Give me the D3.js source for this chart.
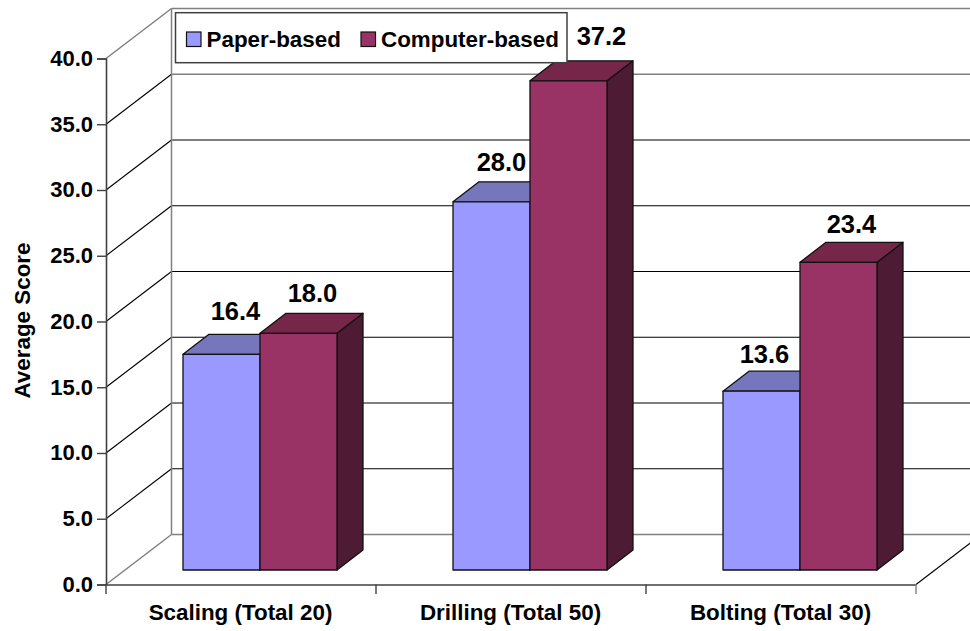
<!DOCTYPE html>
<html><head><meta charset="utf-8">
<script src="https://cdnjs.cloudflare.com/ajax/libs/d3/7.8.5/d3.min.js"></script>
<style>html,body{margin:0;padding:0;background:#fff}svg{display:block}text{font-family:"Liberation Sans",Arial,sans-serif;font-weight:bold;fill:#000}</style>
</head><body><svg id="c" width="970" height="631"></svg>
<script>
const categories=["Scaling (Total 20)","Drilling (Total 50)","Bolting (Total 30)"];
const seriesNames=["Paper-based","Computer-based"];
const paperValues=[16.4,28.0,13.6];
const computerValues=[18.0,37.2,23.4];
const yTicks=[0,5,10,15,20,25,30,35,40];
const colors={front:["#9999ff","#993366"],top:["#7676bd","#762749"],side:["#5b5b99","#4d1b33"]};
// hand placement of the data labels relative to the default spot
const labelNudge=[[1,-7],[1,-4],[-3,-3],[20,-8],[-10,-1],[0,-2]];

const svg=d3.select("#c");
const x0=d3.scaleBand().domain(categories).range([106,916]);
const xs=d3.scaleBand().domain(seriesNames).range([0,154]);
const y=d3.scaleLinear().domain([0,40]).range([584.5,58.5]);
const wall={dx:65.5,dy:-50}, barDepth={dx:26,dy:-20}, barFront={gx:77,dy:-14.5};
const gray="#808080",dark="#404040";
const ln=(a,b,c,d,col,w=1.2)=>svg.append("line").attr("x1",a).attr("y1",b).attr("x2",c).attr("y2",d).attr("stroke",col).attr("stroke-width",w);

const wx=106+wall.dx, rx=916+wall.dx;
yTicks.forEach(t=>{
  const yy=y(t), g=(t===0||t===40||t===35);
  ln(wx,yy+wall.dy,rx,yy+wall.dy,g?gray:"#000",g?1.6:1.2);
  ln(106,yy,wx,yy+wall.dy,(t===0||t===40)?gray:"#000",(t===0||t===40)?1.5:1.1);
});
ln(wx,y(40)+wall.dy,wx,y(0)+wall.dy,gray,1.5);
ln(916,y(0),rx,y(0)+wall.dy,"#000",1.1);

const series=[paperValues,computerValues];
const barY=v=>y(v)+barFront.dy, base=barY(0);
const order=[];
categories.forEach((c,i)=>seriesNames.forEach((s,j)=>order.push({c,i,s,j,v:series[j][i]})));
const bars=svg.append("g").selectAll("g").data(order).join("g");
const path=a=>d3.line()(a);
bars.each(function(d){
  const g=d3.select(this), l=x0(d.c)+barFront.gx+xs(d.s), r=l+xs.bandwidth(), t=barY(d.v);
  const D=barDepth;
  const add=(pts,f)=>g.append("path").attr("d",path(pts)+"Z").attr("fill",f).attr("stroke","#111").attr("stroke-width",1.3).attr("stroke-linejoin","round");
  add([[r,t],[r+D.dx,t+D.dy],[r+D.dx,base+D.dy],[r,base]],colors.side[d.j]);
  add([[l,t],[l+D.dx,t+D.dy],[r+D.dx,t+D.dy],[r,t]],colors.top[d.j]);
  add([[l,t],[r,t],[r,base],[l,base]],colors.front[d.j]);
});

const ya=svg.append("g").attr("transform","translate(106,0)").call(d3.axisLeft(y).tickValues(yTicks).tickFormat(d3.format(".1f")).tickSize(9).tickPadding(4));
ya.select(".domain").attr("stroke",dark).attr("stroke-width",1.6);
ya.selectAll("line").attr("stroke",dark).attr("stroke-width",1.4);
ya.selectAll("text").attr("font-size",22).attr("dy","0.31em").style("font-family",'"Liberation Sans"');
const xa=svg.append("g").attr("transform","translate(0,584.5)").call(d3.axisBottom(x0).tickValues([]).tickSize(0));
xa.select(".domain").attr("stroke",dark).attr("stroke-width",1.6);
x0.domain().concat("end").forEach((c,i)=>ln(106+i*x0.step(),584.5,106+i*x0.step(),594,i===3?gray:dark,1.4));
svg.append("g").selectAll("text").data(categories).join("text")
  .attr("x",c=>x0(c)+x0.bandwidth()/2-0.5).attr("y",620).attr("text-anchor","middle").attr("font-size",22.4).text(c=>c);
svg.append("text").attr("transform","translate(30,320.5) rotate(-90)").attr("text-anchor","middle").attr("font-size",22.4).text("Average Score");

const lg=svg.append("g");
lg.append("rect").attr("x",175.5).attr("y",12.7).attr("width",391.5).attr("height",50).attr("fill","#fff").attr("stroke",dark).attr("stroke-width",1.5);
const legendX=[186.5,361];
seriesNames.forEach((s,i)=>{
  lg.append("rect").attr("x",legendX[i]).attr("y",32).attr("width",14.5).attr("height",14.5).attr("fill",colors.front[i]).attr("stroke","#111").attr("stroke-width",1.2);
  lg.append("text").attr("x",legendX[i]+20).attr("y",47).attr("font-size",22.4).text(s);
});

svg.append("g").selectAll("text").data(order).join("text")
  .attr("x",(d,i)=>x0(d.c)+barFront.gx+xs(d.s)+xs.bandwidth()/2+13+labelNudge[i][0])
  .attr("y",(d,i)=>barY(d.v)+barDepth.dy-7.5+labelNudge[i][1])
  .attr("text-anchor","middle").attr("font-size",25.5).text(d=>d.v.toFixed(1));
</script></body></html>
